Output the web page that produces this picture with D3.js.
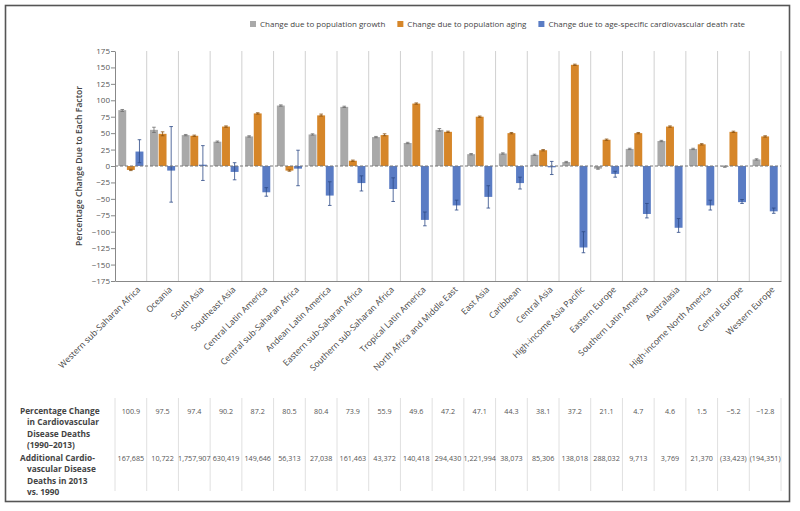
<!DOCTYPE html>
<html>
<head>
<meta charset="utf-8">
<script src="https://cdn.jsdelivr.net/npm/d3@7"></script>
<style>
  html, body { margin: 0; padding: 0; background: #fff; }
  svg { display: block; }
  text { font-family: "Open Sans", "Lato", sans-serif; }
</style>
</head>
<body>
<div id="chart"></div>
<script>
// ---- Data ----
const regions = ["Western sub-Saharan Africa", "Oceania", "South Asia", "Southeast Asia",
  "Central Latin America", "Central sub-Saharan Africa", "Andean Latin America",
  "Eastern sub-Saharan Africa", "Southern sub-Saharan Africa", "Tropical Latin America",
  "North Africa and Middle East", "East Asia", "Caribbean", "Central Asia",
  "High-income Asia Pacific", "Eastern Europe", "Southern Latin America", "Australasia",
  "High-income North America", "Central Europe", "Western Europe"];

const seriesNames = ["Change due to population growth", "Change due to population aging",
  "Change due to age-specific cardiovascular death rate"];

const growth = [85, 55, 47, 37, 45, 92, 48, 90, 44, 35, 55, 18, 19, 17, 6, -4, 26, 38, 26, -1, 10];
const growthLo = [83, 51, 46, 36, 44, 91, 47, 89, 43, 34, 53, 17, 18, 16, 5, -5, 25, 37, 25, -2, 9];
const growthHi = [86, 59, 48, 38, 46, 93, 49, 91, 45, 36, 57, 19, 20, 18, 7, -3, 27, 39, 27, 0, 11];

const aging = [-6, 49, 46, 60, 80, -7, 77, 8, 47, 95, 52, 75, 50, 24, 154, 40, 50, 60, 33, 52, 45];
const agingLo = [-7, 46, 45, 59, 79, -8, 76, 7, 46, 94, 51, 74, 49, 23, 153, 39, 49, 59, 32, 51, 44];
const agingHi = [-5, 52, 47, 61, 81, -6, 79, 9, 49, 96, 53, 76, 51, 25, 155, 41, 51, 61, 34, 53, 46];

const rate = [22, -7, 2, -9, -40, -4, -45, -26, -35, -82, -60, -47, -26, -2, -124, -12, -73, -94, -60, -55, -69];
const rateLo = [5, -55, -22, -21, -46, -30, -60, -38, -54, -91, -67, -64, -35, -13, -132, -17, -79, -101, -67, -57, -72];
const rateHi = [40, 60, 31, 5, -33, 24, -24, -15, -18, -70, -52, -30, -17, 7, -100, -8, -57, -80, -52, -51, -64];

const yTicks = [175, 150, 125, 100, 75, 50, 25, 0, -25, -50, -75, -100, -125, -150, -175];

const pctChange = [100.9, 97.5, 97.4, 90.2, 87.2, 80.5, 80.4, 73.9, 55.9, 49.6, 47.2, 47.1, 44.3, 38.1, 37.2, 21.1, 4.7, 4.6, 1.5, -5.2, -12.8];
const addDeaths = [167685, 10722, 1757907, 630419, 149646, 56313, 27038, 161463, 43372, 140418, 294430, 1221994, 38073, 85306, 138018, 288032, 9713, 3769, 21370, -33423, -194351];

const rowLabel1 = ["Percentage Change", "in Cardiovascular", "Disease Deaths", "(1990\u20132013)"];
const rowLabel2 = ["Additional Cardio-", "vascular Disease", "Deaths in 2013", "vs. 1990"];

// ---- Setup ----
const W = 800, H = 511;
const colors = ["#a9a9a9", "#d68629", "#5a7cc4"];
const errColors = ["#6f6f6f", "#8a5210", "#2d4a86"];

const svg = d3.select("#chart").append("svg").attr("width", W).attr("height", H);
svg.append("rect").attr("x", 0).attr("y", 0).attr("width", W).attr("height", H).attr("fill", "#fff");
svg.append("rect").attr("x", 5.5).attr("y", 5.5).attr("width", 784).attr("height", 496)
  .attr("fill", "none").attr("stroke", "#555").attr("stroke-width", 1.6);

const plotL = 115, plotR = 781, plotT = 51, plotB = 281;
const y = d3.scaleLinear().domain([-175, 175]).range([plotB, plotT]);
const x0 = d3.scaleBand().domain(regions).range([plotL, plotR]).padding(0);
const bw = x0.bandwidth();
const x1 = d3.scaleBand().domain([0, 1, 2]).range([3.3, bw - 3.3]).paddingInner(0.08);

const data = regions.map((r, i) => ({
  region: r,
  vals: [
    {k: 0, v: growth[i], lo: growthLo[i], hi: growthHi[i]},
    {k: 1, v: aging[i], lo: agingLo[i], hi: agingHi[i]},
    {k: 2, v: rate[i], lo: rateLo[i], hi: rateHi[i]}
  ]
}));

// vertical dividers (plot)
svg.append("g").selectAll("line").data(d3.range(1, regions.length + 1)).join("line")
  .attr("x1", i => plotL + i * bw).attr("x2", i => plotL + i * bw)
  .attr("y1", plotT).attr("y2", plotB)
  .attr("stroke", "#d0d0d0").attr("stroke-width", 1);

// Bars
const groups = svg.append("g").selectAll("g").data(data).join("g")
  .attr("transform", d => `translate(${x0(d.region)},0)`);

groups.selectAll("rect").data(d => d.vals).join("rect")
  .attr("x", d => x1(d.k)).attr("width", x1.bandwidth())
  .attr("y", d => y(Math.max(0, d.v)))
  .attr("height", d => Math.abs(y(d.v) - y(0)))
  .attr("fill", d => colors[d.k]);

// error bars
const eb = groups.selectAll("g.err").data(d => d.vals).join("g").attr("class", "err")
  .attr("stroke", d => errColors[d.k]).attr("stroke-width", 0.8);
eb.append("line")
  .attr("x1", d => x1(d.k) + x1.bandwidth() / 2).attr("x2", d => x1(d.k) + x1.bandwidth() / 2)
  .attr("y1", d => y(d.lo)).attr("y2", d => y(d.hi));
eb.append("line")
  .attr("x1", d => x1(d.k) + x1.bandwidth() / 2 - 1.8).attr("x2", d => x1(d.k) + x1.bandwidth() / 2 + 1.8)
  .attr("y1", d => y(d.lo)).attr("y2", d => y(d.lo));
eb.append("line")
  .attr("x1", d => x1(d.k) + x1.bandwidth() / 2 - 1.8).attr("x2", d => x1(d.k) + x1.bandwidth() / 2 + 1.8)
  .attr("y1", d => y(d.hi)).attr("y2", d => y(d.hi));

// zero dashed line
svg.append("line").attr("x1", plotL).attr("x2", plotR).attr("y1", y(0)).attr("y2", y(0))
  .attr("stroke", "#777").attr("stroke-width", 1).attr("stroke-dasharray", "3,2");

// Y axis
const yAxis = svg.append("g").attr("transform", `translate(${plotL},0)`)
  .call(d3.axisLeft(y).tickValues(yTicks).tickSize(4).tickSizeOuter(0)
    .tickFormat(d => d < 0 ? "\u2212" + Math.abs(d) : d));
yAxis.select(".domain").attr("stroke", "#888");
yAxis.selectAll(".tick line").attr("stroke", "#888");
yAxis.selectAll(".tick text").attr("fill", "#555").attr("font-size", 8).attr("x", -5);

// X axis
const xAxis = svg.append("g").attr("transform", `translate(0,${plotB})`)
  .call(d3.axisBottom(x0).tickSize(0).tickSizeOuter(0));
xAxis.select(".domain").attr("stroke", "#888");
xAxis.selectAll(".tick text")
  .attr("fill", "#444").attr("font-size", 8.6)
  .attr("text-anchor", "end").attr("x", 0).attr("y", 0).attr("dy", "0.35em")
  .attr("transform", "translate(8,7) rotate(-45)");

// Y title
svg.append("text").attr("transform", `translate(79,${(plotT + plotB) / 2}) rotate(-90)`)
  .attr("text-anchor", "middle").attr("dy", "0.35em")
  .attr("font-size", 8.6).attr("font-weight", 600).attr("fill", "#444")
  .text("Percentage Change Due to Each Factor");

// Legend
const legend = svg.append("g");
let lx = 250;
seriesNames.forEach((name, i) => {
  legend.append("rect").attr("x", lx).attr("y", 21).attr("width", 6).attr("height", 6).attr("fill", colors[i]);
  const t = legend.append("text").attr("x", lx + 10).attr("y", 24).attr("dy", "0.35em")
    .attr("font-size", 8).attr("fill", "#444").text(name);
  lx += 10 + t.node().getComputedTextLength() + 12;
});

// Table
const tbl = svg.append("g");
tbl.selectAll("line").data(d3.range(0, regions.length + 1)).join("line")
  .attr("x1", i => plotL + i * bw).attr("x2", i => plotL + i * bw)
  .attr("y1", 398).attr("y2", 491)
  .attr("stroke", "#e0e0e0").attr("stroke-width", 1);

const r1y = 414, r2y = 461, lh = 11.4;
rowLabel1.forEach((s, i) => {
  tbl.append("text").attr("x", i === 0 ? 20 : 27).attr("y", r1y + i * lh)
    .attr("font-size", 8.3).attr("font-weight", 700).attr("fill", "#444").text(s);
});
rowLabel2.forEach((s, i) => {
  tbl.append("text").attr("x", i === 0 ? 20 : 27).attr("y", r2y + i * lh)
    .attr("font-size", 8.3).attr("font-weight", 700).attr("fill", "#444").text(s);
});

const fmtPct = d3.format(".1f");
const fmtDeaths = d3.format("(,");
tbl.append("g").selectAll("text").data(pctChange).join("text")
  .attr("x", (d, i) => x0(regions[i]) + bw / 2).attr("y", r1y)
  .attr("text-anchor", "middle").attr("font-size", 7.2).attr("fill", "#555")
  .text(d => fmtPct(d));
tbl.append("g").selectAll("text").data(addDeaths).join("text")
  .attr("x", (d, i) => x0(regions[i]) + bw / 2).attr("y", r2y)
  .attr("text-anchor", "middle").attr("font-size", 7.2).attr("fill", "#555")
  .text(d => fmtDeaths(d));
</script>
</body>
</html>
